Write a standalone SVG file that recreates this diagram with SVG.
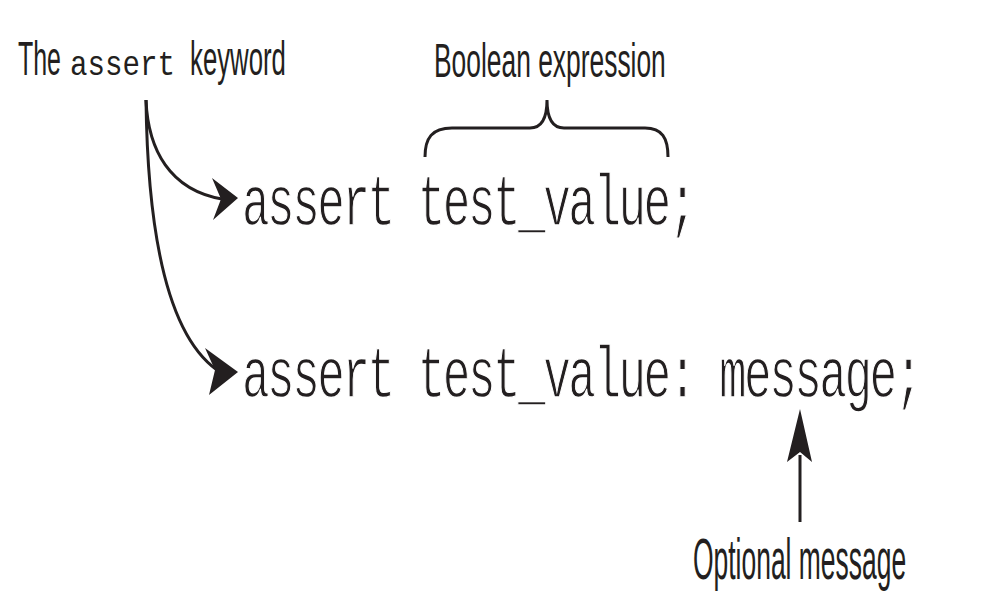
<svg xmlns="http://www.w3.org/2000/svg" width="997" height="604" viewBox="0 0 997 604">
<style>
.lbl{font-family:"Liberation Sans",Arial,sans-serif;font-size:48px;fill:#231f20}
.mono{font-family:"Liberation Mono","Courier New",monospace;fill:#231f20}
.code{font-size:46px;letter-spacing:-2.5px;stroke:#ffffff;stroke-width:0.9px}
.ln{fill:none;stroke:#231f20;stroke-width:3}
.ah{fill:#231f20;stroke:none}
</style>
<rect width="997" height="604" fill="#ffffff"/>
<g id="label-keyword">
<text class="lbl" transform="translate(18,75) scale(0.52,1)">The</text>
<text class="mono" font-size="29.7" transform="translate(70,75) scale(1,1.15)" textLength="105" lengthAdjust="spacingAndGlyphs">assert</text>
<text class="lbl" transform="translate(190,75) scale(0.537,1)">keyword</text>
</g>
<g id="label-boolean">
<text class="lbl" transform="translate(434,77) scale(0.55,1)">Boolean expression</text>
</g>
<g id="label-optional">
<text class="lbl" style="font-size:57px" transform="translate(693,579) scale(0.464,1)">Optional message</text>
</g>
<g id="code-line1">
<text class="mono code" transform="translate(242,225) scale(1,1.56)">assert test_value;</text>
</g>
<g id="code-line2">
<text class="mono code" transform="translate(242,397) scale(1,1.56)">assert test_value: message;</text>
</g>
<g id="connectors">
<path class="ln" d="M425,157 C425,138 432,128 452,128 L530,128 C542,128 547,118 547,100 C547,118 552,128 564,128 L645,128 C662,128 668,138 668,157"/>
<path class="ln" d="M146,100 C148,150 170,190 222,199"/>
<polygon class="ah" points="238,198 212,178 221,199 213,220"/>
<path class="ln" d="M146,100 C148,260 175,340 217,370"/>
<polygon class="ah" points="238,372 205,348 215,370 209,395"/>
<line class="ln" x1="800" y1="455" x2="800" y2="522"/>
<polygon class="ah" points="800,409 787,462 800,452 812,462"/>
</g>
</svg>
